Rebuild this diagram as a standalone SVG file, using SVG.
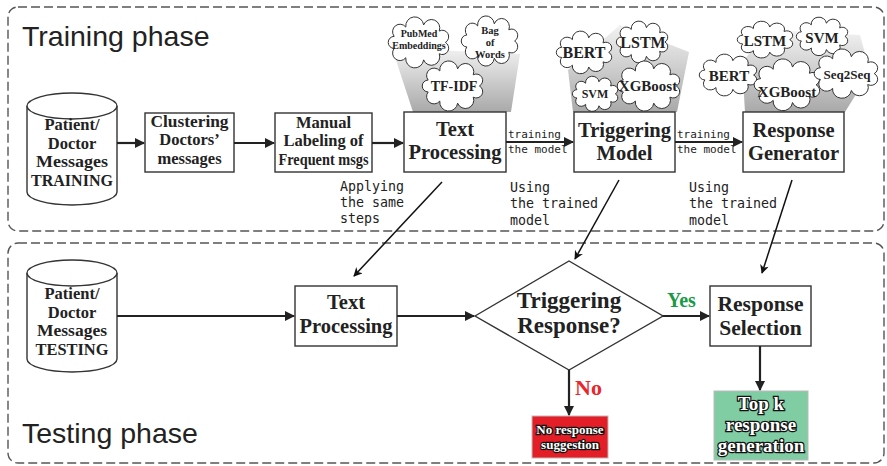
<svg xmlns="http://www.w3.org/2000/svg" xmlns:xlink="http://www.w3.org/1999/xlink" width="887" height="466" viewBox="0 0 887 466">
  <defs>
    <style>
      .frame { fill: none; stroke: #555; stroke-width: 1.4; stroke-dasharray: 9 4; }
      .phase { font-family: "Liberation Sans", Arial, sans-serif; font-size: 28.5px; fill: #222; }
      .box { fill: #fff; stroke: #333; stroke-width: 1.4; }
      .lbl { font-family: "Liberation Serif", "Times New Roman", serif; font-weight: bold; fill: #222; text-anchor: middle; }
      .mono { font-family: "DejaVu Sans Mono", "Liberation Mono", monospace; fill: #222; }
      .cloud { fill: #fff; stroke: #333; stroke-width: 1; }
      .cl { font-family: "Liberation Serif", "Times New Roman", serif; font-weight: bold; fill: #222; text-anchor: middle; }
      .flow { fill: none; stroke: #222; stroke-width: 2.2; }
      .diag { fill: none; stroke: #111; stroke-width: 1.5; }
      .outl { font-family: "Liberation Serif", "Times New Roman", serif; font-weight: bold; fill: #fff; stroke: #111; stroke-width: 2.4; paint-order: stroke; text-anchor: middle; }
    </style>
    <marker id="arrow" viewBox="0 0 10 10" refX="9" refY="5" markerWidth="11" markerHeight="10" markerUnits="userSpaceOnUse" orient="auto">
      <path d="M0,0 L10,5 L0,10 z" fill="#222"/>
    </marker>
    <marker id="arrowSm" viewBox="0 0 10 10" refX="9" refY="5" markerWidth="10" markerHeight="9" markerUnits="userSpaceOnUse" orient="auto">
      <path d="M0,0 L10,5 L0,10 L3,5 z" fill="#111"/>
    </marker>
    <linearGradient id="fan" x1="0" y1="0" x2="0" y2="1">
      <stop offset="0" stop-color="#f2f2f2"/>
      <stop offset="1" stop-color="#a9a9a9"/>
    </linearGradient>
    <path id="cloud" class="cloud" vector-effect="non-scaling-stroke" d="M94,40 A1,1 0 0 1 83.7,58.6 A1,1 0 0 1 57.7,68.6 A1,1 0 0 1 28,65.1 A1,1 0 0 1 8.6,49.9 A1,1 0 0 1 8.6,30.1 A1,1 0 0 1 28,14.9 A1,1 0 0 1 57.7,11.4 A1,1 0 0 1 83.7,21.4 A1,1 0 0 1 94,40 Z"/>
  </defs>

  <rect width="887" height="466" fill="#fff"/>

  <!-- phase frames -->
  <g id="training-frame">
    <rect class="frame" x="8" y="7" width="876" height="224" rx="10"/>
    <text class="phase" x="22" y="46">Training phase</text>
  </g>
  <g id="testing-frame">
    <rect class="frame" x="8" y="243" width="876" height="220" rx="10"/>
    <text class="phase" x="22" y="443">Testing phase</text>
  </g>

  <!-- model clouds above the training boxes -->
  <g id="text-processing-methods">
    <polygon points="392,48 520,54 511,112 413,112" fill="url(#fan)"/>
    <use xlink:href="#cloud" transform="translate(389,18) scale(0.6,0.61)"/>
    <use xlink:href="#cloud" transform="translate(462,17) scale(0.56,0.6)"/>
    <use xlink:href="#cloud" transform="translate(423,62) scale(0.6,0.6)"/>
    <text class="cl" x="419" y="37" font-size="10">PubMed</text>
    <text class="cl" x="419" y="49" font-size="10">Embeddings</text>
    <text class="cl" x="490" y="34" font-size="10.5">Bag</text>
    <text class="cl" x="490" y="46" font-size="10.5">of</text>
    <text class="cl" x="490" y="58" font-size="10.5">Words</text>
    <text class="cl" x="454" y="91" font-size="14">TF-IDF</text>
  </g>
  <g id="triggering-methods">
    <polygon points="568,70 620,25 689,52 677,112 573,112" fill="url(#fan)"/>
    <use xlink:href="#cloud" transform="translate(557,32) scale(0.55,0.51)"/>
    <use xlink:href="#cloud" transform="translate(617,22) scale(0.51,0.5)"/>
    <use xlink:href="#cloud" transform="translate(573,77) scale(0.45,0.42)"/>
    <use xlink:href="#cloud" transform="translate(618,62) scale(0.62,0.6)"/>
    <text class="cl" x="584" y="58" font-size="16">BERT</text>
    <text class="cl" x="643" y="48" font-size="16">LSTM</text>
    <text class="cl" x="595" y="98" font-size="12">SVM</text>
    <text class="cl" x="648" y="91" font-size="15">XGBoost</text>
  </g>
  <g id="generator-methods">
    <polygon points="742,62 770,30 860,35 870,72 845,112 745,112" fill="url(#fan)"/>
    <use xlink:href="#cloud" transform="translate(738,22) scale(0.55,0.44)"/>
    <use xlink:href="#cloud" transform="translate(797,18) scale(0.51,0.46)"/>
    <use xlink:href="#cloud" transform="translate(700,55) scale(0.57,0.5)"/>
    <use xlink:href="#cloud" transform="translate(755,60) scale(0.65,0.62)"/>
    <use xlink:href="#cloud" transform="translate(815,50) scale(0.63,0.59)"/>
    <text class="cl" x="765" y="46" font-size="15">LSTM</text>
    <text class="cl" x="822" y="43" font-size="15">SVM</text>
    <text class="cl" x="729" y="81" font-size="15">BERT</text>
    <text class="cl" x="787" y="97" font-size="15">XGBoost</text>
    <text class="cl" x="847" y="79" font-size="13">Seq2Seq</text>
  </g>

  <!-- training nodes -->
  <g id="training-data">
    <path class="box" d="M27,106 L27,192 A45,13 0 0 0 117,192 L117,106"/>
    <ellipse class="box" cx="72" cy="106" rx="45" ry="13"/>
    <text class="lbl" x="72" y="130" font-size="16.5">Patient/</text>
    <text class="lbl" x="72" y="148.5" font-size="16.5">Doctor</text>
    <text class="lbl" x="72" y="167" font-size="16.5" textLength="72" lengthAdjust="spacingAndGlyphs">Messages</text>
    <text class="lbl" x="72" y="185.5" font-size="16.5" textLength="82" lengthAdjust="spacingAndGlyphs">TRAINING</text>
  </g>
  <g id="clustering">
    <rect class="box" x="145" y="113" width="89" height="59"/>
    <text class="lbl" x="189.5" y="126.5" font-size="16.5" textLength="78" lengthAdjust="spacingAndGlyphs">Clustering</text>
    <text class="lbl" x="189.5" y="145" font-size="16.5">Doctors’</text>
    <text class="lbl" x="189.5" y="163.5" font-size="16.5">messages</text>
  </g>
  <g id="manual-labeling">
    <rect class="box" x="275" y="113" width="97" height="59"/>
    <text class="lbl" x="323.5" y="127.5" font-size="16.5">Manual</text>
    <text class="lbl" x="323.5" y="146" font-size="16.5">Labeling of</text>
    <text class="lbl" x="323.5" y="164.5" font-size="16.5" textLength="90" lengthAdjust="spacingAndGlyphs">Frequent msgs</text>
  </g>
  <g id="text-processing-train">
    <rect class="box" x="404" y="112" width="102" height="60"/>
    <text class="lbl" x="455" y="136" font-size="20.5">Text</text>
    <text class="lbl" x="455" y="159" font-size="20.5">Processing</text>
  </g>
  <g id="triggering-model">
    <rect class="box" x="574" y="112" width="101" height="60"/>
    <text class="lbl" x="624.5" y="137" font-size="20.5">Triggering</text>
    <text class="lbl" x="624.5" y="160" font-size="20.5">Model</text>
  </g>
  <g id="response-generator">
    <rect class="box" x="743" y="112" width="101" height="60"/>
    <text class="lbl" x="793.5" y="137" font-size="20.5">Response</text>
    <text class="lbl" x="793.5" y="160" font-size="20.5">Generator</text>
  </g>

  <!-- testing nodes -->
  <g id="testing-data">
    <path class="box" d="M27,273 L27,359 A45,13 0 0 0 117,359 L117,273"/>
    <ellipse class="box" cx="72" cy="273" rx="45" ry="13"/>
    <text class="lbl" x="72" y="299" font-size="16.5">Patient/</text>
    <text class="lbl" x="72" y="317.5" font-size="16.5">Doctor</text>
    <text class="lbl" x="72" y="336" font-size="16.5" textLength="70" lengthAdjust="spacingAndGlyphs">Messages</text>
    <text class="lbl" x="72" y="354.5" font-size="16.5" textLength="73" lengthAdjust="spacingAndGlyphs">TESTING</text>
  </g>
  <g id="text-processing-test">
    <rect class="box" x="295" y="286" width="102" height="60"/>
    <text class="lbl" x="346" y="309" font-size="20.5">Text</text>
    <text class="lbl" x="346" y="333" font-size="20.5">Processing</text>
  </g>
  <g id="triggering-decision">
    <polygon class="box" points="475,316 569,261 663,316 569,370"/>
    <text class="lbl" x="569" y="308" font-size="23">Triggering</text>
    <text class="lbl" x="569" y="333" font-size="23">Response?</text>
  </g>
  <g id="response-selection">
    <rect class="box" x="710" y="286" width="101" height="60"/>
    <text class="lbl" x="760.5" y="311" font-size="21.5">Response</text>
    <text class="lbl" x="760.5" y="335" font-size="21.5">Selection</text>
  </g>
  <g id="top-k">
    <rect x="714" y="391" width="94" height="69" fill="#80cca3" stroke="#bbb" stroke-width="1"/>
    <text class="outl" x="761" y="410" font-size="19">Top k</text>
    <text class="outl" x="761" y="431" font-size="19">response</text>
    <text class="outl" x="761" y="452" font-size="19">generation</text>
  </g>
  <g id="no-suggestion">
    <rect x="532" y="416" width="76" height="42" fill="#e31e26" stroke="#bbb" stroke-width="1"/>
    <text class="outl" x="570" y="434" font-size="13" stroke-width="2">No response</text>
    <text class="outl" x="570" y="449" font-size="13" stroke-width="2">suggestion</text>
  </g>

  <!-- connectors -->
  <g id="connectors">
    <line class="flow" x1="117" y1="143" x2="144" y2="143" marker-end="url(#arrow)"/>
    <line class="flow" x1="234" y1="143" x2="274" y2="143" marker-end="url(#arrow)"/>
    <line class="flow" x1="372" y1="143" x2="403" y2="143" marker-end="url(#arrow)"/>
    <line class="flow" x1="506" y1="142" x2="573" y2="142" marker-end="url(#arrow)"/>
    <line class="flow" x1="675" y1="142" x2="742" y2="142" marker-end="url(#arrow)"/>
    <text class="mono" x="508" y="138" font-size="11">training</text>
    <text class="mono" x="508" y="153" font-size="11">the model</text>
    <text class="mono" x="677" y="138" font-size="11">training</text>
    <text class="mono" x="677" y="153" font-size="11">the model</text>

    <line class="diag" x1="442" y1="182" x2="354" y2="276" marker-end="url(#arrowSm)"/>
    <line class="diag" x1="619" y1="180" x2="575" y2="259" marker-end="url(#arrowSm)"/>
    <line class="diag" x1="792" y1="180" x2="762" y2="273" marker-end="url(#arrowSm)"/>
    <text class="mono" x="340" y="191" font-size="13.3">Applying</text>
    <text class="mono" x="340" y="207" font-size="13.3">the same</text>
    <text class="mono" x="340" y="223" font-size="13.3">steps</text>
    <text class="mono" x="510" y="192" font-size="13.3">Using</text>
    <text class="mono" x="510" y="208" font-size="13.3">the trained</text>
    <text class="mono" x="510" y="225" font-size="13.3">model</text>
    <text class="mono" x="689" y="192" font-size="13.3">Using</text>
    <text class="mono" x="689" y="208" font-size="13.3">the trained</text>
    <text class="mono" x="689" y="225" font-size="13.3">model</text>

    <line class="flow" x1="117" y1="316" x2="294" y2="316" marker-end="url(#arrow)"/>
    <line class="flow" x1="397" y1="316" x2="474" y2="316" marker-end="url(#arrow)"/>
    <line class="flow" x1="663" y1="316" x2="709" y2="316" marker-end="url(#arrow)"/>
    <text x="667" y="307" font-family="Liberation Serif, serif" font-weight="bold" font-size="20" fill="#1a9a48">Yes</text>
    <line class="flow" x1="569" y1="370" x2="569" y2="415" marker-end="url(#arrow)"/>
    <text x="575" y="395" font-family="Liberation Serif, serif" font-weight="bold" font-size="22" fill="#e8262b">No</text>
    <line class="flow" x1="760" y1="346" x2="760" y2="390" marker-end="url(#arrow)"/>
  </g>
</svg>
